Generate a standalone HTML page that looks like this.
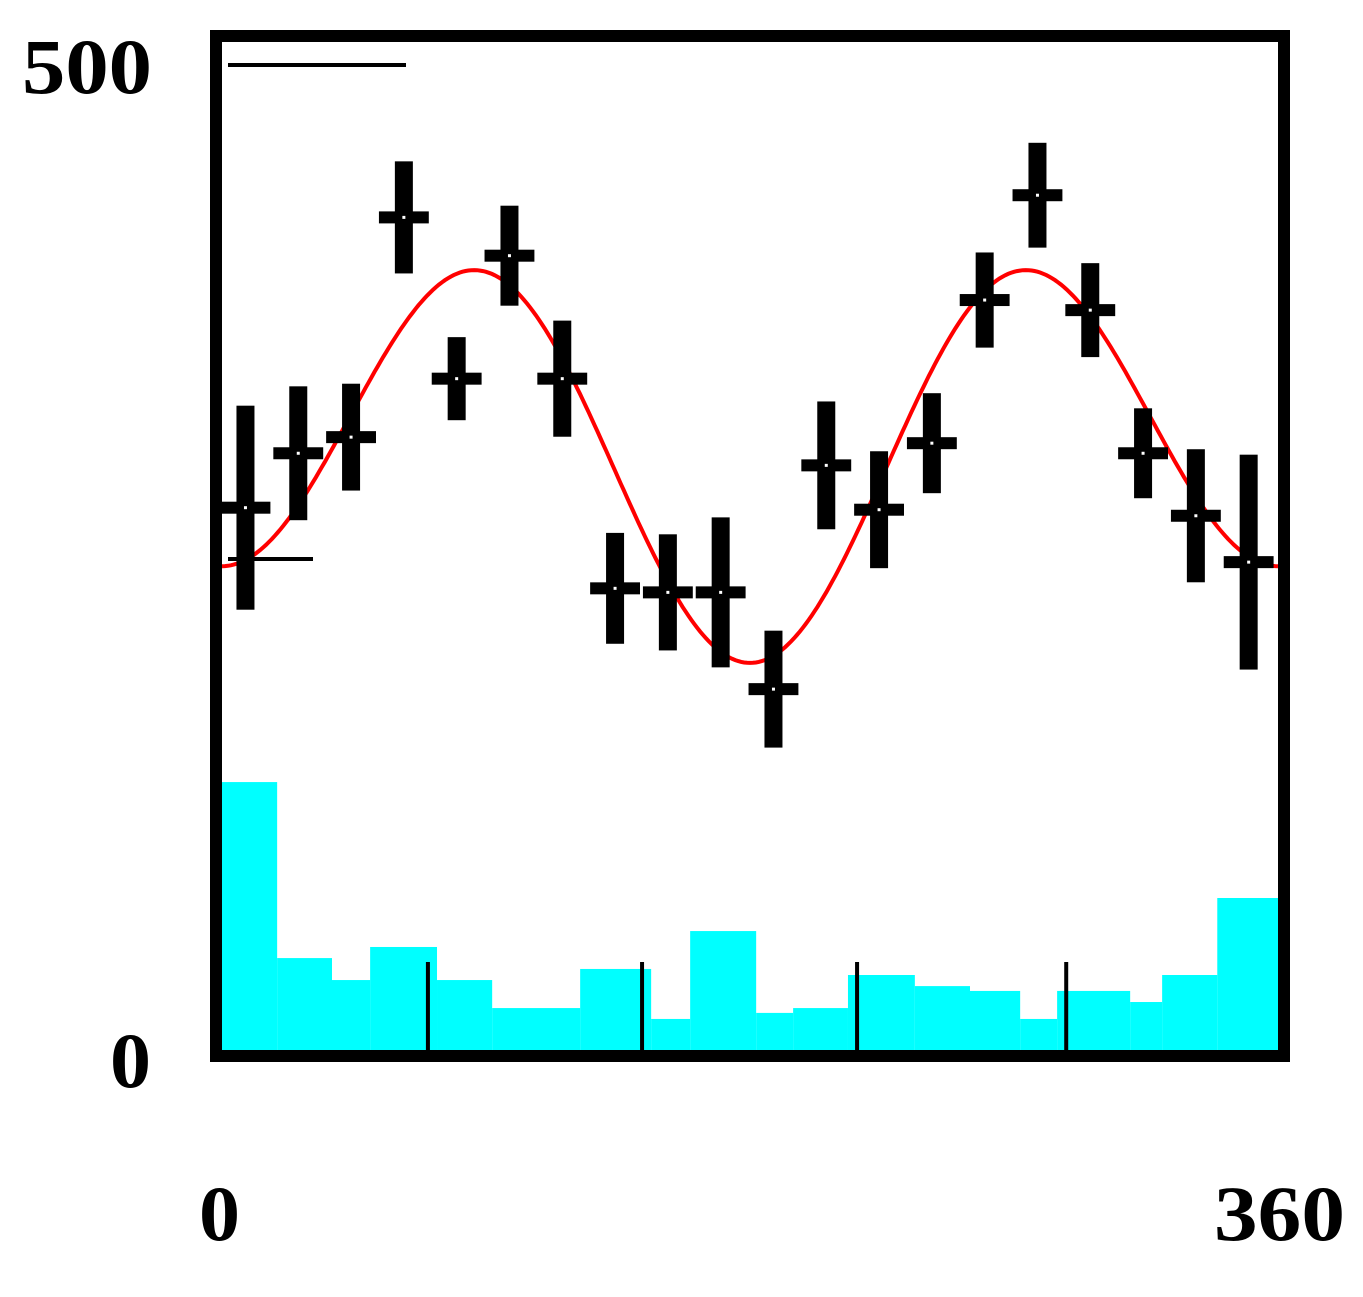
<!DOCTYPE html>
<html><head><meta charset="utf-8"><style>
html,body{margin:0;padding:0;background:#fff}
svg{display:block}
text{font-family:"Liberation Serif",serif;font-weight:bold;fill:#000}
</style></head><body>
<svg id="chart" width="1363" height="1297" viewBox="0 0 1363 1297" xmlns="http://www.w3.org/2000/svg">
<g id="hist"></g>
<g id="ticks"></g>
<g id="fit"></g>
<g id="pts"></g>
<rect x="216" y="36" width="1068" height="1020" fill="none" stroke="#000" stroke-width="12"/>
<line x1="228" y1="65" x2="406" y2="65" stroke="#000" stroke-width="4"/>
<line x1="228" y1="559" x2="313" y2="559" stroke="#000" stroke-width="4"/>
<text x="22" y="93" font-size="78" textLength="130" lengthAdjust="spacingAndGlyphs">500</text>
<text x="110" y="1087" font-size="78" textLength="41" lengthAdjust="spacingAndGlyphs">0</text>
<text x="199" y="1240" font-size="78" textLength="41" lengthAdjust="spacingAndGlyphs">0</text>
<text x="1214" y="1240" font-size="78" textLength="131" lengthAdjust="spacingAndGlyphs">360</text>
</svg>
<script>
const pointVals=[269,296,304,413,333,394,333,229,227,227,179,290,268,301,372,424,367,296,265,242];
const pointErrs=[50.6,33.2,26.5,27.8,20.6,24.8,28.8,27.5,28.8,37.2,29,31.7,29,24.8,23.6,26,23.3,22.3,33,53.3];
const histEdges=[0,18.8,37.5,50.5,73.3,92.1,122.1,146.3,159.6,182.1,194.7,213.4,236.2,255,272.1,284.7,309.6,320.5,339.3,360];
const histVals=[132.9,45.6,34.7,51.1,34.7,20.8,40.2,15.4,59,18.4,20.8,37.2,31.7,29.3,15.4,29.3,23.8,37.2,75.4];
const fitParams=[301,85,24];
const tickDegs=[70.2,143.2,216.5,287.8];
const NS="http://www.w3.org/2000/svg";
const X=d=>222+d*(1056/360);
const Y=v=>1050-v*(1008/500);
function mk(t,a,p){const e=document.createElementNS(NS,t);for(const k in a)e.setAttribute(k,a[k]);p.appendChild(e);return e;}
const hist=document.getElementById('hist');
histVals.forEach((v,i)=>{
 const r=mk('rect',{x:X(histEdges[i]),y:Y(v),width:X(histEdges[i+1])-X(histEdges[i]),height:Y(0)-Y(v),fill:'#00ffff'},hist);
 
 
});
const tk=document.getElementById('ticks');
tickDegs.forEach(d=>{
 const l=mk('line',{x1:X(d),x2:X(d),y1:962,y2:1050,stroke:'#000','stroke-width':4},tk);
 
 
});
const fit=document.getElementById('fit');
let dstr='';
for(let d=0;d<=360;d+=1){const r=d*Math.PI/180;const v=fitParams[0]-fitParams[1]*Math.cos(2*r)+fitParams[2]*Math.cos(r);dstr+=(d?'L':'M')+X(d).toFixed(1)+','+Y(v).toFixed(1);}
const fp=mk('path',{d:dstr,fill:'none',stroke:'#ff0000','stroke-width':4},fit);


const pts=document.getElementById('pts');
pointVals.forEach((v,i)=>{
 const c=8+18*i;const cx=X(c);
 const g=mk('g',{},pts);
 
 
 mk('rect',{x:cx-9,y:Y(v+pointErrs[i]),width:18,height:Y(v-pointErrs[i])-Y(v+pointErrs[i]),fill:'#000'},g);
 mk('rect',{x:X(c-8.5),y:Y(v)-6,width:X(c+8.5)-X(c-8.5),height:12,fill:'#000'},g);
 mk('rect',{x:cx-1.5,y:Y(v)-1.5,width:3,height:3,fill:'#fff'},g);
});
</script>
</body></html>
